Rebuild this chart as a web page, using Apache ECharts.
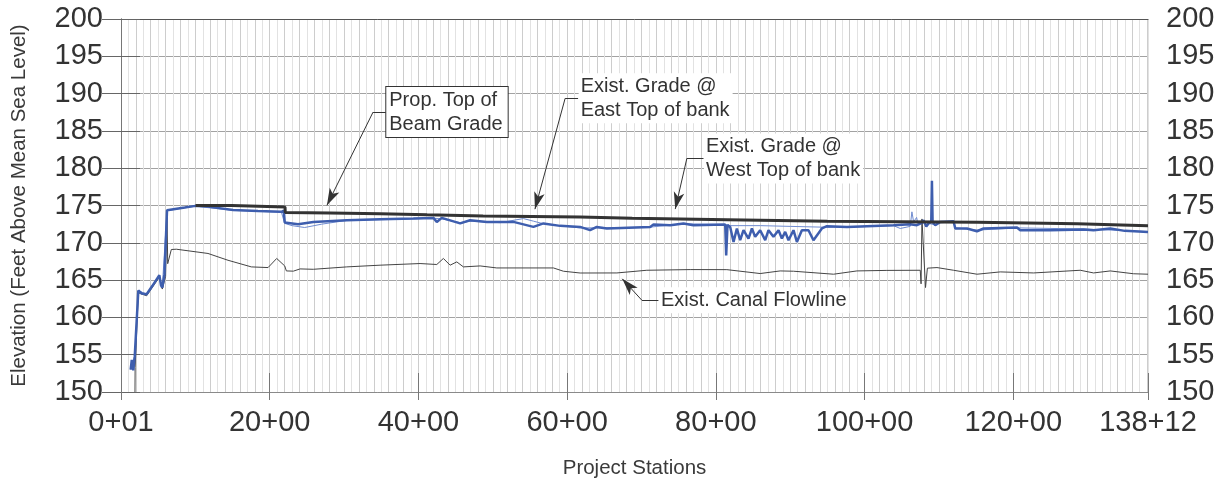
<!DOCTYPE html>
<html><head><meta charset="utf-8">
<script src="https://cdn.jsdelivr.net/npm/echarts@6/dist/echarts.min.js"></script>
<style>html,body{margin:0;padding:0;background:#fff;}#c{width:1227px;height:488px;}</style>
</head><body><div id="c"></div>
<script>
// ---- Data (stations in feet, elevations in feet above MSL) ----
const stationTicks = [0, 2000, 4000, 6000, 8000, 10000, 12000, 13812];
const stationTickLabels = ['0+01', '20+00', '40+00', '60+00', '80+00', '100+00', '120+00', '138+12'];

const beamStations = [1002, 1489, 1490, 2206, 2209, 2812, 3484, 4117, 4870, 6175, 6875, 7520, 8153, 8825, 9498, 11516, 12861, 13812];
const beamElev     = [175.0, 175.0, 174.8, 174.8, 174.07, 174.0, 173.9, 173.75, 173.6, 173.45, 173.3, 173.2, 173.1, 173.0, 172.9, 172.75, 172.55, 172.3];

const westStations = [130, 145, 165, 185, 233, 278, 345, 420, 516, 538, 556, 585, 619, 632, 857, 1000, 1170, 1507, 1843, 2157, 2189, 2202, 2381, 2587, 3036, 3484, 3932, 4201, 4247, 4314, 4561, 4695, 4920, 5278, 5547, 5681, 5906, 6175, 6309, 6399, 6534, 7117, 7161, 7386, 7565, 7699, 8126, 8139, 8157, 8193, 8238, 8283, 8327, 8372, 8439, 8485, 8529, 8596, 8664, 8708, 8775, 8843, 8888, 8933, 8977, 9044, 9090, 9157, 9246, 9313, 9426, 9494, 9763, 10032, 10390, 10614, 10704, 10772, 10793, 10830, 10861, 10897, 10906, 10915, 10951, 11018, 11197, 11220, 11377, 11512, 11601, 12050, 12094, 12498, 12946, 13080, 13305, 13500, 13812];
const westElev     = [153.0, 154.3, 152.9, 154.8, 163.6, 163.2, 163.1, 164.2, 165.65, 164.3, 164.0, 165.8, 174.37, 174.5, 174.73, 174.95, 174.85, 174.4, 174.25, 174.15, 174.3, 172.73, 172.5, 172.8, 173.03, 173.16, 173.25, 173.34, 172.8, 173.34, 172.6, 173.03, 172.8, 172.8, 172.13, 172.6, 172.27, 172.13, 171.7, 172.13, 171.92, 172.13, 172.45, 172.36, 172.6, 172.36, 172.45, 168.3, 172.4, 172.13, 170.12, 171.92, 170.35, 171.69, 170.57, 171.92, 170.8, 171.69, 170.35, 171.69, 170.8, 171.69, 170.57, 171.46, 170.35, 171.69, 170.12, 171.69, 171.69, 170.35, 171.92, 172.23, 172.13, 172.23, 172.36, 172.5, 172.36, 172.67, 173.03, 172.2, 172.6, 172.8, 178.3, 172.8, 172.36, 172.8, 172.9, 171.92, 171.92, 171.55, 171.92, 172.05, 171.69, 171.69, 171.78, 171.69, 171.92, 171.6, 171.46];

const eastStations = [130, 185, 233, 345, 516, 556, 619, 857, 1000, 1507, 2157, 2202, 2300, 2470, 2700, 3036, 3932, 4201, 4314, 4561, 4695, 5100, 5412, 5547, 5700, 6175, 6399, 7117, 7565, 8126, 8193, 8600, 9000, 9426, 9763, 10390, 10480, 10614, 10637, 10660, 10700, 10720, 10793, 10861, 10951, 11018, 11197, 11220, 11512, 12050, 12946, 13812];
const eastElev     = [153.0, 154.8, 163.6, 163.1, 165.6, 164.1, 174.3, 174.7, 174.9, 174.35, 174.1, 172.6, 172.3, 172.05, 172.5, 173.0, 173.2, 173.3, 173.2, 172.7, 172.9, 172.7, 173.25, 172.9, 172.5, 172.0, 172.0, 172.1, 172.55, 172.45, 172.3, 172.3, 172.2, 172.1, 172.1, 172.3, 171.92, 172.2, 174.15, 172.8, 173.4, 172.5, 172.8, 172.6, 172.4, 172.8, 172.8, 172.0, 171.7, 172.0, 171.85, 171.5];

const flowStations = [188, 190, 233, 345, 516, 556, 600, 619, 628, 677, 744, 1170, 1439, 1753, 1978, 2094, 2202, 2224, 2318, 2408, 2587, 3036, 3484, 4022, 4247, 4336, 4426, 4516, 4605, 4830, 5054, 5816, 5950, 6175, 6669, 7072, 7655, 8148, 8596, 8865, 9044, 9583, 9897, 10300, 10749, 10760, 10772, 10790, 10820, 10845, 10974, 11197, 11512, 11825, 12273, 12901, 13080, 13305, 13619, 13812];
const flowElev     = [150.0, 153.3, 163.3, 162.9, 165.4, 163.8, 165.5, 174.2, 167.2, 169.1, 169.14, 168.57, 167.66, 166.77, 166.68, 167.9, 166.9, 166.23, 166.2, 166.5, 166.45, 166.77, 167.0, 167.22, 167.09, 167.9, 167.0, 167.44, 166.77, 166.9, 166.63, 166.63, 166.19, 165.95, 165.96, 166.32, 166.41, 166.4, 165.88, 166.23, 166.19, 165.79, 166.23, 166.3, 166.32, 164.5, 173.2, 173.0, 164.0, 166.6, 166.68, 166.32, 165.79, 166.1, 165.96, 166.32, 165.96, 166.23, 165.85, 165.79];

// Annotations: text, leader stub start (station, elev), stub end, arrow point
const annTexts = ['Prop. Top of\nBeam Grade', 'Exist. Grade @\nEast Top of bank', 'Exist. Grade @\nWest Top of bank', 'Exist. Canal Flowline'];
const annStubStart = [[3390, 187.52], [5973, 189.36], [7610, 181.31], [7005, 162.3]];
const annStubEnd   = [[3561, 187.52], [6148, 189.36], [7834, 181.31], [7228, 162.3]];
const annArrow     = [[2770, 175.03], [5567, 174.51], [7454, 174.52], [6741, 165.17]];

// ---- Build ----
const zip = (a, b) => a.map((v, i) => [v, b[i]]);
const FONT = '"Liberation Sans", Arial, sans-serif';
const XMIN = 0, XMAX = 13812, YMIN = 150, YMAX = 200;

const markLineData = [];
annStubStart.forEach((s, i) => {
  markLineData.push([{ coord: s, symbol: 'none' }, { coord: annStubEnd[i], symbol: 'none' }]);
  markLineData.push([{ coord: s, symbol: 'none' }, { coord: annArrow[i], symbol: 'arrow', symbolSize: [8, 17] }]);
});
const markPointData = annTexts.map((t, i) => ({
  coord: annStubEnd[i],
  label: {
    formatter: t,
    borderColor: i === 0 ? '#333' : 'transparent',
    borderWidth: i === 0 ? 1 : 0,
    padding: i === 0 ? [1, 5, 1, 3] : [1, 3, 1, 2]
  }
}));

const chart = echarts.init(document.getElementById('c'), null, { renderer: 'canvas' });
const labelStyle = { fontFamily: FONT, fontSize: 29, color: '#333' };
const nameStyle = { fontFamily: FONT, fontSize: 20.5, color: '#3a3a3a' };

chart.setOption({
  animation: false,
  backgroundColor: '#fff',
  grid: { left: 121, right: 79, top: 19, bottom: 96, containLabel: false },
  xAxis: [
    { // labels + outer ticks
      type: 'value', position: 'bottom', min: XMIN, max: XMAX,
      name: 'Project Stations', nameLocation: 'middle', nameGap: 66,
      nameTextStyle: nameStyle,
      axisLine: { show: true, lineStyle: { color: '#8a8a8a', width: 1 } },
      axisTick: { show: true, inside: false, length: 8, customValues: stationTicks, lineStyle: { color: '#777' } },
      axisLabel: { ...labelStyle, margin: 16, customValues: stationTicks,
        formatter: v => { const k = stationTicks.indexOf(v); return k >= 0 ? stationTickLabels[k] : ''; } },
      splitLine: { show: false }
    },
    { // inner ticks
      type: 'value', position: 'bottom', min: XMIN, max: XMAX,
      axisLine: { show: false },
      axisTick: { show: true, inside: true, length: 19, customValues: stationTicks, lineStyle: { color: '#777' } },
      axisLabel: { show: false }, splitLine: { show: false }
    },
    { // vertical grid every 1+00
      type: 'value', position: 'bottom', min: XMIN, max: XMAX, interval: 100,
      axisLine: { show: false }, axisTick: { show: false }, axisLabel: { show: false },
      splitLine: { show: true, lineStyle: { color: ['#cdcdcd', '#e2e2e2'], width: 1 } }
    },
    { // top border
      type: 'value', position: 'top', min: XMIN, max: XMAX,
      axisLine: { show: true, lineStyle: { color: '#555', width: 1 } },
      axisTick: { show: false }, axisLabel: { show: false }, splitLine: { show: false }
    }
  ],
  yAxis: [
    {
      type: 'value', position: 'left', min: YMIN, max: YMAX, interval: 5,
      name: 'Elevation (Feet Above Mean Sea Level)', nameLocation: 'middle', nameGap: 91,
      nameTextStyle: nameStyle,
      axisLine: { show: true, lineStyle: { color: '#666', width: 1 } },
      axisTick: { show: true, inside: false, length: 18, lineStyle: { color: '#666' } },
      axisLabel: { ...labelStyle, margin: 18 },
      splitLine: { show: true, lineStyle: { color: '#a2a2a2', width: 1 } }
    },
    {
      type: 'value', position: 'left', min: YMIN, max: YMAX, interval: 5,
      axisLine: { show: false },
      axisTick: { show: true, inside: true, length: 19, lineStyle: { color: '#666' } },
      axisLabel: { show: false }, splitLine: { show: false }
    },
    {
      type: 'value', position: 'right', min: YMIN, max: YMAX, interval: 5,
      axisLine: { show: true, lineStyle: { color: '#777', width: 1 } },
      axisTick: { show: true, inside: false, length: 18, lineStyle: { color: '#666' } },
      axisLabel: { ...labelStyle, margin: 18 },
      splitLine: { show: false }
    },
    {
      type: 'value', position: 'right', min: YMIN, max: YMAX, interval: 5,
      axisLine: { show: false },
      axisTick: { show: true, inside: true, length: 19, lineStyle: { color: '#666' } },
      axisLabel: { show: false }, splitLine: { show: false }
    }
  ],
  series: [
    {
      name: 'Exist. Canal Flowline', type: 'line', showSymbol: false, z: 2,
      data: zip(flowStations, flowElev),
      lineStyle: { color: '#444', width: 1 }
    },
    {
      name: 'Exist. Grade @ East Top of bank', type: 'line', showSymbol: false, z: 3,
      data: zip(eastStations, eastElev),
      lineStyle: { color: '#6f8bd0', width: 1 }
    },
    {
      name: 'Exist. Grade @ West Top of bank', type: 'line', showSymbol: false, z: 4,
      data: zip(westStations, westElev),
      lineStyle: { color: '#3e5eae', width: 2.5 }
    },
    {
      name: 'Prop. Top of Beam Grade', type: 'line', showSymbol: false, z: 5,
      data: zip(beamStations, beamElev),
      lineStyle: { color: '#333', width: 3 },
      markLine: {
        silent: true, animation: false,
        lineStyle: { color: '#333', width: 1, type: 'solid' },
        itemStyle: { color: '#222' },
        label: { show: false },
        data: markLineData
      },
      markPoint: {
        silent: true, animation: false,
        symbol: 'circle', symbolSize: 1,
        itemStyle: { color: 'rgba(0,0,0,0)' },
        label: {
          show: true, position: 'right', distance: 0,
          fontFamily: FONT, fontSize: 20, lineHeight: 24, color: '#333',
          backgroundColor: '#fff', align: 'left'
        },
        data: markPointData
      }
    }
  ]
});
</script></body></html>
